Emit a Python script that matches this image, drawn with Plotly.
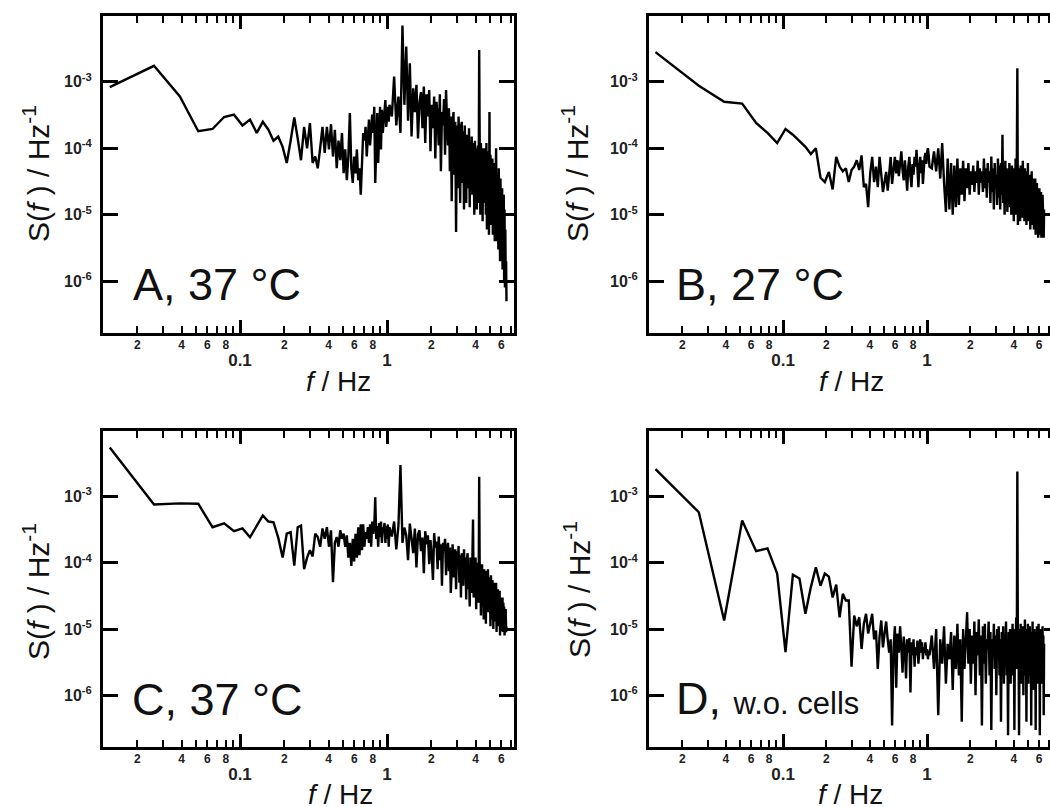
import plotly.graph_objects as go

W, H = 1050, 807
FONT = "Liberation Sans"
INK = "#111111"

# Frequency grid of the power spectra (Hz)
freq_hz = [
    0.013, 0.026, 0.039, 0.052, 0.065, 0.078, 0.091, 0.104, 0.117, 0.130,
    0.143, 0.156, 0.169, 0.182, 0.195, 0.208, 0.221, 0.234, 0.247, 0.260,
    0.273, 0.286, 0.299, 0.312, 0.325, 0.338, 0.351, 0.364, 0.377, 0.390,
    0.403, 0.416, 0.429, 0.442, 0.455, 0.468, 0.481, 0.494, 0.507, 0.520,
    0.533, 0.546, 0.559, 0.572, 0.585, 0.598, 0.611, 0.624, 0.637, 0.650,
    0.663, 0.676, 0.689, 0.702, 0.715, 0.728, 0.741, 0.754, 0.767, 0.780,
    0.793, 0.806, 0.819, 0.832, 0.845, 0.858, 0.871, 0.884, 0.897, 0.910,
    0.923, 0.936, 0.949, 0.962, 0.975, 0.988, 1.001, 1.014, 1.027, 1.040,
    1.079, 1.118, 1.157, 1.196, 1.235, 1.274, 1.313, 1.352, 1.391, 1.430,
    1.469, 1.508, 1.547, 1.586, 1.625, 1.664, 1.703, 1.742, 1.781, 1.820,
    1.859, 1.898, 1.937, 1.976, 2.015, 2.054, 2.093, 2.132, 2.171, 2.210,
    2.249, 2.288, 2.327, 2.366, 2.405, 2.444, 2.483, 2.522, 2.561, 2.600,
    2.639, 2.678, 2.717, 2.756, 2.795, 2.834, 2.873, 2.912, 2.951, 2.990,
    3.029, 3.068, 3.107, 3.146, 3.185, 3.224, 3.263, 3.302, 3.341, 3.380,
    3.419, 3.458, 3.497, 3.536, 3.575, 3.614, 3.653, 3.692, 3.731, 3.770,
    3.809, 3.848, 3.887, 3.926, 3.965, 4.004, 4.043, 4.082, 4.121, 4.160,
    4.199, 4.238, 4.277, 4.316, 4.355, 4.394, 4.433, 4.472, 4.511, 4.550,
    4.589, 4.628, 4.667, 4.706, 4.745, 4.784, 4.823, 4.862, 4.901, 4.940,
    4.979, 5.018, 5.057, 5.096, 5.135, 5.174, 5.213, 5.252, 5.291, 5.330,
    5.369, 5.408, 5.447, 5.486, 5.525, 5.564, 5.603, 5.642, 5.681, 5.720,
    5.759, 5.798, 5.837, 5.876, 5.915, 5.954, 5.993, 6.032, 6.071, 6.110,
    6.149, 6.188, 6.227, 6.266, 6.305, 6.344, 6.383, 6.422, 6.461, 6.500,
]

# S(f), Hz^-1 -- A: 37 °C
psd_a = [
    8.3e-4, 1.74e-3, 6.0e-4, 1.8e-4, 1.95e-4, 2.95e-4, 3.2e-4, 2.2e-4, 2.7e-4, 1.7e-4,
    2.5e-4, 1.9e-4, 1.3e-4, 1.5e-4, 1.05e-4, 6.0e-5, 1.3e-4, 2.9e-4, 1.4e-4, 6.6e-5,
    2.1e-4, 1.0e-4, 2.4e-4, 6.0e-5, 7.5e-5, 5.0e-5, 1.0e-4, 2.1e-4, 8.5e-5, 2.1e-4,
    9.6e-5, 2.3e-4, 7.5e-5, 1.9e-4, 5.0e-5, 1.3e-4, 6.6e-5, 1.7e-4, 4.2e-5, 9.6e-5,
    3.3e-5, 7.5e-5, 3.4e-4, 5.0e-5, 3.0e-5, 7.5e-5, 4.2e-5, 9.6e-5, 3.3e-5, 5.0e-5,
    2.0e-5, 7.5e-5, 1.7e-4, 1.3e-4, 2.1e-4, 7.5e-5, 1.3e-4, 2.7e-4, 1.1e-4, 2.1e-4,
    3.2e-4, 1.7e-4, 4.2e-4, 3.0e-5, 1.2e-4, 3.4e-4, 6.0e-5, 2.1e-4, 4.2e-4, 9.6e-5,
    3.8e-4, 1.7e-4, 2.7e-4, 3.4e-4, 5.3e-4, 2.1e-4, 3.8e-4, 4.2e-4, 2.5e-4, 4.5e-4,
    3.0e-4, 1.2e-3, 2.2e-4, 6.0e-4, 1.7e-4, 7.0e-3, 4.5e-4, 3.4e-3, 2.6e-4, 1.9e-3,
    1.5e-4, 8.0e-4, 3.5e-4, 9.0e-4, 1.4e-4, 5.0e-4, 7.0e-4, 2.0e-4, 8.5e-4, 1.2e-4,
    6.5e-4, 3.0e-4, 7.5e-4, 9.0e-5, 4.5e-4, 2.0e-4, 6.0e-4, 7.0e-5, 5.0e-4, 3.0e-4,
    1.1e-4, 6.5e-4, 4.5e-5, 3.5e-4, 2.2e-4, 5.5e-4, 8.0e-5, 7.5e-4, 2.5e-4, 1.1e-4,
    4.0e-4, 4.5e-5, 3.0e-4, 1.6e-5, 2.0e-4, 3.5e-4, 4.0e-5, 2.5e-4, 5.5e-6, 2.2e-4,
    2.5e-5, 3.0e-4, 1.1e-4, 1.5e-5, 2.0e-4, 2.5e-4, 3.0e-5, 1.8e-4, 1.2e-5, 2.2e-4,
    8.0e-5, 1.5e-5, 1.6e-4, 1.4e-4, 2.5e-5, 2.0e-4, 1.3e-5, 1.2e-4, 6.0e-5, 1.5e-4,
    2.0e-5, 1.2e-4, 7.0e-5, 1.0e-5, 1.3e-4, 2.2e-5, 1.0e-4, 1.2e-5, 9.0e-5, 1.1e-4,
    1.5e-5, 3.0e-3, 8.0e-5, 1.0e-5, 1.2e-4, 4.0e-5, 9.0e-5, 8.0e-6, 1.0e-4, 3.0e-5,
    1.0e-4, 1.5e-5, 8.0e-5, 1.0e-5, 1.2e-4, 6.0e-6, 7.0e-5, 4.0e-5, 9.0e-5, 5.0e-6,
    3.5e-4, 1.2e-5, 8.0e-5, 3.0e-5, 7.0e-6, 5.0e-5, 7.0e-5, 5.0e-6, 5.0e-5, 1.2e-5,
    6.0e-5, 4.0e-6, 4.0e-5, 2.0e-5, 1.0e-4, 4.0e-6, 4.0e-5, 6.0e-6, 3.0e-5, 3.0e-6,
    5.0e-5, 1.5e-5, 2.5e-5, 2.0e-6, 3.5e-5, 4.0e-6, 2.0e-5, 1.0e-5, 2.5e-5, 1.5e-6,
    1.5e-5, 2.0e-6, 2.0e-5, 1.0e-6, 1.2e-5, 8.0e-7, 6.0e-6, 1.0e-6, 2.0e-6, 5.0e-7,
]

# B: 27 °C
psd_b = [
    2.8e-3, 8.7e-4, 5.0e-4, 4.7e-4, 2.4e-4, 1.7e-4, 1.2e-4, 1.95e-4, 1.6e-4, 1.3e-4,
    1.05e-4, 8.2e-5, 1.0e-4, 3.6e-5, 3.1e-5, 4.4e-5, 2.4e-5, 7.4e-5, 5.3e-5, 4.5e-5,
    5.0e-5, 3.1e-5, 4.7e-5, 5.3e-5, 6.6e-5, 4.7e-5, 7.8e-5, 2.6e-5, 2.9e-5, 1.3e-5,
    4.2e-5, 7.4e-5, 3.1e-5, 5.3e-5, 2.6e-5, 7.4e-5, 3.8e-5, 2.2e-5, 3.1e-5, 4.4e-5,
    2.3e-5, 4.2e-5, 7.4e-5, 2.9e-5, 5.3e-5, 7.4e-5, 4.2e-5, 6.6e-5, 3.8e-5, 5.5e-5,
    9.0e-5, 4.7e-5, 3.3e-5, 6.6e-5, 4.2e-5, 2.3e-5, 5.3e-5, 7.4e-5, 3.8e-5, 2.6e-5,
    5.8e-5, 4.0e-5, 7.4e-5, 5.3e-5, 9.5e-5, 5.8e-5, 2.6e-5, 5.3e-5, 7.4e-5, 4.2e-5,
    6.6e-5, 2.9e-5, 5.3e-5, 7.4e-5, 8.5e-5, 5.8e-5, 8.5e-5, 1.0e-4, 7.8e-5, 5.3e-5,
    5.0e-5, 9.0e-5, 4.5e-5, 1.0e-4, 3.5e-5, 1.2e-4, 3.0e-5, 1.1e-5, 7.0e-5, 1.2e-5,
    6.0e-5, 1.0e-5, 5.5e-5, 1.3e-5, 7.0e-5, 1.4e-5, 5.0e-5, 2.0e-5, 6.5e-5, 1.6e-5,
    5.0e-5, 2.5e-5, 6.0e-5, 2.0e-5, 4.5e-5, 2.8e-5, 5.5e-5, 2.2e-5, 4.5e-5, 3.0e-5,
    6.5e-5, 2.0e-5, 5.0e-5, 3.0e-5, 4.5e-5, 2.2e-5, 7.0e-5, 2.5e-5, 5.0e-5, 1.8e-5,
    6.0e-5, 3.0e-5, 4.5e-5, 1.5e-5, 7.5e-5, 2.2e-5, 5.0e-5, 1.2e-5, 6.0e-5, 2.5e-5,
    4.0e-5, 1.4e-5, 7.0e-5, 1.8e-5, 5.5e-5, 1.2e-5, 6.0e-5, 2.0e-5, 1.6e-4, 1.5e-5,
    5.0e-5, 1.0e-5, 6.5e-5, 1.5e-5, 5.0e-5, 1.1e-5, 4.5e-5, 2.0e-5, 6.0e-5, 1.3e-5,
    4.0e-5, 1.0e-5, 5.5e-5, 1.6e-5, 4.0e-5, 8.0e-6, 5.0e-5, 1.4e-5, 7.0e-5, 1.0e-5,
    4.5e-5, 1.6e-3, 7.0e-6, 5.0e-5, 1.2e-5, 4.0e-5, 8.0e-6, 5.5e-5, 1.5e-5, 4.0e-5,
    9.0e-6, 6.5e-5, 1.2e-5, 3.5e-5, 8.0e-6, 5.0e-5, 1.4e-5, 3.5e-5, 7.0e-6, 4.5e-5,
    1.0e-5, 6.0e-5, 8.0e-6, 3.5e-5, 1.2e-5, 4.0e-5, 6.0e-6, 3.0e-5, 1.0e-5, 4.5e-5,
    7.0e-6, 3.0e-5, 1.1e-5, 3.5e-5, 6.0e-6, 2.8e-5, 9.0e-6, 3.5e-5, 5.0e-6, 2.5e-5,
    1.0e-5, 3.0e-5, 6.0e-6, 2.5e-5, 4.5e-6, 2.0e-5, 8.0e-6, 2.5e-5, 5.0e-6, 2.0e-5,
    7.0e-6, 2.2e-5, 4.5e-6, 1.8e-5, 6.0e-6, 2.0e-5, 5.0e-6, 1.6e-5, 4.5e-6, 1.2e-5,
]

# C: 37 °C
psd_c = [
    5.5e-3, 7.6e-4, 7.9e-4, 7.8e-4, 3.45e-4, 3.95e-4, 3.0e-4, 3.3e-4, 2.43e-4, 3.65e-4,
    5.2e-4, 4.2e-4, 4.1e-4, 2.4e-4, 1.2e-4, 2.75e-4, 2.9e-4, 9.1e-5, 3.45e-4, 3.65e-4,
    8.0e-5, 1.2e-4, 1.55e-4, 1.25e-4, 2.75e-4, 2.45e-4, 1.75e-4, 3.3e-4, 2.3e-4, 3.45e-4,
    1.75e-4, 3.1e-4, 5.1e-5, 2.0e-4, 2.45e-4, 1.75e-4, 3.1e-4, 2.3e-4, 2.75e-4, 1.75e-4,
    2.6e-4, 1.2e-4, 2.0e-4, 9.0e-5, 2.3e-4, 1.05e-4, 2.75e-4, 1.2e-4, 3.45e-4, 1.3e-4,
    3.8e-4, 1.55e-4, 3.8e-4, 1.75e-4, 2.9e-4, 2.3e-4, 3.45e-4, 2.0e-4, 3.8e-4, 1.75e-4,
    4.2e-4, 2.75e-4, 3.45e-4, 9.8e-4, 2.3e-4, 3.6e-4, 1.75e-4, 4.0e-4, 2.45e-4, 4.2e-4,
    2.0e-4, 3.45e-4, 2.9e-4, 4.0e-4, 2.0e-4, 3.6e-4, 2.3e-4, 3.8e-4, 1.75e-4, 3.45e-4,
    2.5e-4, 4.2e-4, 1.6e-4, 3.6e-4, 3.0e-3, 2.0e-4, 3.4e-4, 2.6e-4, 1.1e-4, 3.9e-4,
    2.2e-4, 1.4e-4, 3.3e-4, 8.5e-5, 2.7e-4, 3.1e-4, 1.5e-4, 2.4e-4, 7.0e-5, 3.0e-4,
    1.9e-4, 2.6e-4, 9.5e-5, 2.2e-4, 1.3e-4, 5.5e-5, 2.8e-4, 1.7e-4, 2.1e-4, 8.0e-5,
    2.5e-4, 1.1e-4, 1.9e-4, 4.5e-5, 2.0e-4, 1.5e-4, 2.3e-4, 6.5e-5, 1.6e-4, 2.0e-4,
    7.5e-5, 1.7e-4, 3.5e-5, 1.4e-4, 1.9e-4, 6.0e-5, 1.2e-4, 1.6e-4, 4.0e-5, 1.5e-4,
    9.0e-5, 1.8e-4, 5.0e-5, 1.3e-4, 3.0e-5, 1.4e-4, 1.0e-4, 4.5e-5, 1.6e-4, 6.5e-5,
    1.2e-4, 2.8e-5, 1.1e-4, 1.4e-4, 4.0e-5, 9.0e-5, 2.2e-5, 1.2e-4, 7.0e-5, 3.5e-5,
    1.1e-4, 4.5e-4, 3.0e-5, 9.5e-5, 6.0e-5, 1.2e-4, 2.0e-5, 8.0e-5, 4.5e-5, 1.0e-4,
    2.5e-5, 2.0e-3, 5.0e-5, 8.5e-5, 1.6e-5, 7.0e-5, 9.5e-5, 3.0e-5, 6.5e-5, 1.4e-5,
    8.0e-5, 4.0e-5, 6.5e-5, 1.2e-5, 7.5e-5, 3.0e-5, 5.5e-5, 8.0e-5, 1.8e-5, 6.0e-5,
    2.5e-5, 4.5e-5, 1.1e-5, 6.5e-5, 3.5e-5, 1.4e-5, 5.5e-5, 4.0e-5, 1.0e-5, 5.0e-5,
    2.2e-5, 4.0e-5, 1.3e-5, 3.0e-5, 5.0e-5, 9.0e-6, 3.5e-5, 1.8e-5, 4.0e-5, 1.1e-5,
    3.0e-5, 1.6e-5, 3.8e-5, 8.0e-6, 2.5e-5, 3.0e-5, 1.0e-5, 2.8e-5, 1.4e-5, 3.0e-5,
    9.0e-6, 2.5e-5, 1.5e-5, 2.2e-5, 8.0e-6, 1.8e-5, 1.1e-5, 2.0e-5, 9.0e-6, 1.1e-5,
]

# D: medium without cells
psd_d = [
    2.6e-3, 5.8e-4, 1.35e-5, 4.35e-4, 1.5e-4, 1.65e-4, 6.9e-5, 4.5e-6, 6.6e-5, 5.8e-5,
    1.7e-5, 4.3e-5, 8.6e-5, 4.5e-5, 6.9e-5, 6.2e-5, 3.0e-5, 4.7e-5, 1.5e-5, 3.4e-5,
    2.7e-5, 2.7e-5, 2.7e-6, 1.6e-5, 1.1e-5, 1.5e-5, 5.0e-6, 1.2e-5, 1.7e-5, 8.6e-6,
    1.2e-5, 1.7e-5, 7.0e-6, 9.5e-6, 2.5e-6, 7.7e-6, 1.35e-5, 5.3e-6, 8.6e-6, 1.3e-5,
    7.0e-6, 4.4e-6, 7.0e-6, 3.5e-7, 5.0e-6, 1.1e-5, 1.3e-6, 8.6e-6, 4.4e-6, 1.1e-5,
    5.3e-6, 2.2e-6, 7.7e-6, 5.0e-6, 1.8e-6, 7.0e-6, 4.4e-6, 7.3e-6, 1.1e-6, 6.3e-6,
    4.0e-6, 7.0e-6, 2.7e-6, 5.3e-6, 4.0e-6, 6.7e-6, 3.0e-6, 5.0e-6, 7.0e-6, 4.4e-6,
    6.3e-6, 3.5e-6, 5.3e-6, 4.4e-6, 6.3e-6, 4.0e-6, 5.0e-6, 3.5e-6, 4.7e-6, 4.0e-6,
    8.0e-6, 2.5e-6, 1.0e-5, 5.0e-7, 7.0e-6, 3.0e-6, 1.1e-5, 1.5e-6, 6.0e-6, 3.5e-6,
    9.0e-6, 1.2e-6, 8.0e-6, 2.5e-6, 1.2e-5, 2.0e-6, 7.0e-6, 4.0e-7, 1.0e-5, 2.5e-6,
    7.5e-6, 1.8e-5, 3.0e-6, 1.0e-5, 1.5e-6, 8.0e-6, 3.0e-6, 1.3e-5, 1.0e-6, 9.0e-6,
    4.0e-6, 1.4e-5, 2.0e-6, 8.0e-6, 3.5e-7, 1.1e-5, 3.0e-6, 1.2e-5, 1.5e-6, 7.0e-6,
    5.0e-6, 1.3e-5, 2.0e-6, 9.0e-6, 3.0e-7, 7.0e-6, 4.0e-6, 1.2e-5, 2.5e-6, 8.0e-6,
    1.0e-6, 1.0e-5, 5.0e-6, 1.1e-5, 2.0e-6, 7.0e-6, 4.0e-7, 9.0e-6, 3.0e-6, 1.1e-5,
    1.5e-6, 8.0e-6, 4.0e-6, 1.3e-5, 2.0e-6, 7.0e-6, 2.5e-7, 9.0e-6, 3.0e-6, 1.0e-5,
    1.5e-6, 8.0e-6, 4.5e-6, 1.2e-5, 2.0e-6, 9.0e-6, 3.0e-7, 1.0e-5, 3.0e-6, 1.5e-5,
    2.5e-6, 2.4e-3, 3.5e-6, 1.0e-5, 2.5e-7, 8.0e-6, 3.0e-6, 1.2e-5, 1.5e-6, 9.0e-6,
    5.0e-6, 1.1e-5, 1.0e-6, 7.0e-6, 3.5e-6, 1.4e-5, 2.0e-6, 8.0e-6, 4.0e-7, 1.0e-5,
    3.0e-6, 1.2e-5, 1.5e-6, 7.0e-6, 4.0e-6, 1.1e-5, 2.0e-6, 9.0e-6, 3.5e-7, 8.0e-6,
    3.0e-6, 1.3e-5, 1.2e-6, 7.0e-6, 4.0e-6, 1.0e-5, 2.0e-6, 8.0e-6, 3.0e-7, 9.0e-6,
    3.0e-6, 1.1e-5, 1.5e-6, 7.0e-6, 4.0e-6, 1.2e-5, 2.0e-6, 8.0e-6, 2.5e-7, 9.0e-6,
    3.0e-6, 1.0e-5, 1.5e-6, 7.0e-6, 3.5e-6, 1.1e-5, 2.0e-6, 8.0e-6, 5.0e-7, 6.0e-6,
]

# Axis ticks
major_f = [0.1, 1]
major_f_text = ["0.1", "1"]
minor_f = [0.02, 0.03, 0.04, 0.05, 0.06, 0.07, 0.08, 0.09,
           0.2, 0.3, 0.4, 0.5, 0.6, 0.7, 0.8, 0.9,
           2, 3, 4, 5, 6, 7]
digit_f = [0.02, 0.04, 0.06, 0.08, 0.2, 0.4, 0.6, 0.8, 2, 4, 6]
digit_text = ["2", "4", "6", "8", "2", "4", "6", "8", "2", "4", "6"]
decade_s = [1e-6, 1e-5, 1e-4, 1e-3]
decade_text = ["10<sup>-6</sup>", "10<sup>-5</sup>", "10<sup>-4</sup>", "10<sup>-3</sup>"]

Y_LOG_RANGE = [-6.78, -2.01]

# Panel boxes in pixels: (left, right, top, bottom)
panels = [
    dict(label="A, 37 °C", psd=psd_a, box=(103, 514, 16, 333),
         xr=[-1.932, 0.864], open_right=False,
         label_xy=(131, 284), ytitle_xy=(36, 174), xtitle_xy=(338, 381)),
    dict(label="B, 27 °C", psd=psd_b, box=(649, 1050, 16, 333),
         xr=[-1.931, 0.854], open_right=True,
         label_xy=(674, 284), ytitle_xy=(575, 174), xtitle_xy=(851, 381)),
    dict(label="C, 37 °C", psd=psd_c, box=(103, 514, 431, 747),
         xr=[-1.932, 0.864], open_right=False,
         label_xy=(130, 699), ytitle_xy=(36, 592), xtitle_xy=(340, 794)),
    dict(label="D, <span style='font-size:31px'>w.o. cells</span>", psd=psd_d,
         box=(649, 1050, 431, 747), xr=[-1.931, 0.854], open_right=True,
         label_xy=(674, 698), ytitle_xy=(577, 590), xtitle_xy=(850, 794)),
]


def px(x):
    return x / W


def py(y):
    return 1 - y / H


fig = go.Figure()
layout = dict(
    width=W, height=H, margin=dict(l=0, r=0, t=0, b=0),
    paper_bgcolor="white", plot_bgcolor="white",
    showlegend=False, hovermode=False, annotations=[],
    font=dict(family=FONT, color=INK),
)

right_axis_id = 5
for i, p in enumerate(panels, start=1):
    sfx = "" if i == 1 else str(i)
    xa, ya = "x" + sfx, "y" + sfx
    left, right, top, bottom = p["box"]

    fig.add_trace(go.Scatter(
        x=freq_hz, y=p["psd"], mode="lines",
        line=dict(color="black", width=2.4),
        xaxis=xa, yaxis=ya, hoverinfo="skip",
    ))

    layout["xaxis" + sfx] = dict(
        domain=[px(left), px(right)], anchor=ya, type="log", range=p["xr"],
        showline=True, linewidth=3, linecolor="black", mirror="ticks",
        ticks="inside", ticklen=13, tickwidth=2.5, tickcolor="black",
        tickmode="array", tickvals=major_f, ticktext=major_f_text,
        tickfont=dict(family=FONT, size=17, weight="bold", color="#222"),
        ticklabelstandoff=10,
        minor=dict(ticks="inside", ticklen=7, tickwidth=2.2, tickcolor="black",
                   tickmode="array", tickvals=minor_f, showgrid=False),
        showgrid=False, zeroline=False,
    )
    layout["yaxis" + sfx] = dict(
        domain=[py(bottom), py(top)], anchor=xa, type="log", range=Y_LOG_RANGE,
        showline=True, linewidth=3, linecolor="black",
        mirror=False if p["open_right"] else "ticks",
        ticks="inside", ticklen=15, tickwidth=2.5, tickcolor="black",
        tickmode="array", tickvals=decade_s, ticktext=decade_text,
        tickfont=dict(family=FONT, size=16, weight="bold", color="#222"),
        ticklabelstandoff=5,
        showgrid=False, zeroline=False,
    )

    # digit labels 2, 4, 6, 8 under the minor ticks
    k = 4 + i
    layout["xaxis%d" % k] = dict(
        overlaying=xa, anchor=ya, side="bottom", type="log", range=p["xr"],
        tickmode="array", tickvals=digit_f, ticktext=digit_text, ticks="",
        tickfont=dict(family=FONT, size=12, weight="bold", color="#222"),
        ticklabelstandoff=3,
        showline=False, showgrid=False, zeroline=False,
    )
    fig.add_trace(go.Scatter(x=[], y=[], xaxis="x%d" % k, yaxis=ya,
                             mode="lines", hoverinfo="skip"))

    # right-hand ticks for panels whose frame runs off the page edge
    if p["open_right"]:
        r = right_axis_id
        right_axis_id += 1
        layout["yaxis%d" % r] = dict(
            overlaying=ya, anchor=xa, side="right", type="log", range=Y_LOG_RANGE,
            tickmode="array", tickvals=decade_s, ticks="inside", ticklen=6,
            tickwidth=2.5, tickcolor="black", showticklabels=False,
            showline=False, showgrid=False, zeroline=False,
        )
        fig.add_trace(go.Scatter(x=[], y=[], xaxis=xa, yaxis="y%d" % r,
                                 mode="lines", hoverinfo="skip"))

    lx, ly = p["label_xy"]
    layout["annotations"].append(dict(
        text=p["label"], xref="paper", yref="paper", x=px(lx), y=py(ly),
        xanchor="left", yanchor="middle", showarrow=False,
        font=dict(family=FONT, size=45, color=INK),
    ))
    tx, ty = p["ytitle_xy"]
    layout["annotations"].append(dict(
        text="S(<i>f</i> ) / Hz<sup>-1</sup>", xref="paper", yref="paper",
        x=px(tx), y=py(ty), xanchor="center", yanchor="middle", textangle=-90,
        showarrow=False, font=dict(family=FONT, size=30, color=INK),
    ))
    fx, fy = p["xtitle_xy"]
    layout["annotations"].append(dict(
        text="<i>f</i> / Hz", xref="paper", yref="paper",
        x=px(fx), y=py(fy), xanchor="center", yanchor="middle",
        showarrow=False, font=dict(family=FONT, size=28, color=INK),
    ))

fig.update_layout(**layout)
fig.write_html("out.html")
